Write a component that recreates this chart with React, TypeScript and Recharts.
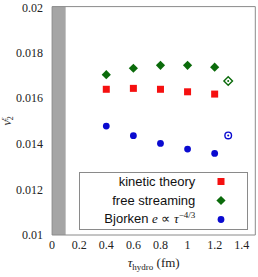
import { ScatterChart, Scatter, XAxis, YAxis, ReferenceArea, Legend, Label } from 'recharts';

// values
const TAU = [0.4, 0.6, 0.8, 1.0, 1.2];
const KINETIC = [0.01638, 0.01642, 0.01638, 0.01627, 0.01617];
const FREE_STREAMING = [0.01702, 0.0173, 0.01743, 0.01743, 0.01735];
const BJORKEN = [0.01477, 0.01435, 0.01401, 0.01376, 0.01357];
const TAU_OPEN = [1.3];
const FREE_STREAMING_OPEN = [0.01674];
const BJORKEN_OPEN = [0.01436];

const X_TICKS = [0, 0.2, 0.4, 0.6, 0.8, 1, 1.2, 1.4];
const X_MINOR = [0.1, 0.3, 0.5, 0.7, 0.9, 1.1, 1.3];
const Y_TICKS = [0.01, 0.012, 0.014, 0.016, 0.018, 0.02];
const LEGEND_ORDER = ['kinetic theory', 'free streaming', 'Bjorken'];

const FRAME = '#8a8a8a';
const RED = '#f51010';
const GREEN = '#0b6b0b';
const BLUE = '#0a0ad0';
const SERIF = '"Liberation Serif", "Times New Roman", serif';
const SANS = '"Liberation Sans", Arial, sans-serif';

const toPoints = (xs: number[], ys: number[]) => xs.map((x, i) => ({ x, y: ys[i] }));

const Square = ({ cx, cy }: any) => <rect x={cx - 3.5} y={cy - 3.5} width={7} height={7} fill={RED} />;
const Diamond = ({ cx, cy }: any) => (
  <polygon points={`${cx},${cy - 4.6} ${cx + 4.6},${cy} ${cx},${cy + 4.6} ${cx - 4.6},${cy}`} fill={GREEN} />
);
const Dot = ({ cx, cy }: any) => <circle cx={cx} cy={cy} r={3.4} fill={BLUE} />;
const OpenDiamond = ({ cx, cy }: any) => (
  <g>
    <polygon
      points={`${cx},${cy - 4.3} ${cx + 4.3},${cy} ${cx},${cy + 4.3} ${cx - 4.3},${cy}`}
      fill="#fff"
      stroke={GREEN}
      strokeWidth={1.4}
    />
    <circle cx={cx} cy={cy} r={1} fill={GREEN} />
  </g>
);
const OpenDot = ({ cx, cy }: any) => (
  <g>
    <circle cx={cx} cy={cy} r={3.3} fill="#fff" stroke={BLUE} strokeWidth={1.4} />
    <circle cx={cx} cy={cy} r={1} fill={BLUE} />
  </g>
);

const fmt = (v: number) => String(Number(v.toFixed(3)));

const YTitle = ({ viewBox }: any) => {
  const x = viewBox.x + 11;
  const y = viewBox.y + viewBox.height / 2;
  return (
    <text x={x} y={y} transform={`rotate(-90, ${x}, ${y})`} textAnchor="middle" fontFamily={SERIF} fill="#222">
      <tspan fontStyle="italic" fontSize={12}>v</tspan>
      <tspan fontSize={8} dy={2.5}>2</tspan>
      <tspan fontSize={8} fontStyle="italic" dx={-4.5} dy={-7}>ε</tspan>
    </text>
  );
};

const XTitle = ({ viewBox }: any) => {
  const x = viewBox.x + viewBox.width / 2;
  return (
    <text x={x} y={267} textAnchor="middle" fontFamily={SERIF} fill="#222">
      <tspan fontStyle="italic" fontSize={13}>τ</tspan>
      <tspan fontSize={9} dy={2.5}>hydro</tspan>
      <tspan fontSize={13} dy={-2.5}> (fm)</tspan>
    </text>
  );
};

const LegendMarker = ({ name }: { name: string }) => {
  if (name === 'kinetic theory') return <Square cx={26} cy={9.5} />;
  if (name === 'free streaming') return <Diamond cx={26} cy={9.5} />;
  return <Dot cx={26} cy={9.5} />;
};

const LegendBox = ({ payload }: any) => {
  const names = (payload || []).map((e: any) => e.value);
  const rows = LEGEND_ORDER.filter((n) => names.includes(n));
  return (
    <div
      style={{
        width: 169,
        height: 58,
        boxSizing: 'border-box',
        border: `1px solid ${FRAME}`,
        background: '#fff',
        fontFamily: SANS,
        fontSize: 13,
        color: '#111',
        paddingTop: 0,
        overflow: 'hidden',
      }}
    >
      {rows.map((name, i) => (
        <div key={name} style={{ display: 'flex', alignItems: 'center', height: 19, marginTop: i === 0 ? -1 : 0 }}>
          <span style={{ width: 116, textAlign: 'right', whiteSpace: 'nowrap', lineHeight: '19px' }}>
            {name === 'Bjorken' ? (
              <>
                Bjorken{' '}
                <span style={{ fontFamily: SERIF, fontStyle: 'italic' }}>e</span>{' '}
                <span style={{ fontFamily: SERIF }}>∝</span>{' '}
                <span style={{ fontFamily: SERIF, fontStyle: 'italic' }}>τ</span>
                <span style={{ fontFamily: SERIF, fontSize: 9, position: 'relative', top: -5 }}>−4/3</span>
              </>
            ) : (
              name
            )}
          </span>
          <svg width={52} height={19}>
            <LegendMarker name={name} />
          </svg>
        </div>
      ))}
    </div>
  );
};

export default function App() {
  const tickStyle = { fontFamily: SERIF, fontSize: 12, fill: '#222' };
  return (
    <div style={{ position: 'absolute', left: 0, top: 0 }}>
      <ScatterChart width={258} height={277} margin={{ top: 6.6, right: 2.7, bottom: 0, left: 0 }}>
        <XAxis
          xAxisId="x"
          type="number"
          dataKey="x"
          domain={[0, 1.5]}
          ticks={X_TICKS}
          height={42}
          tickLine={false}
          tickSize={0}
          tickMargin={5}
          axisLine={{ stroke: FRAME }}
          tick={tickStyle}
          tickFormatter={fmt}
          allowDataOverflow
        >
          <Label content={XTitle} />
        </XAxis>
        <XAxis xAxisId="xb1" type="number" domain={[0, 1.5]} ticks={X_TICKS} mirror tick={false} tickSize={4} axisLine={false} tickLine={{ stroke: FRAME }} height={1} />
        <XAxis xAxisId="xb2" type="number" domain={[0, 1.5]} ticks={X_MINOR} mirror tick={false} tickSize={2} axisLine={false} tickLine={{ stroke: FRAME }} height={1} />
        <XAxis xAxisId="xt1" type="number" orientation="top" domain={[0, 1.5]} ticks={X_TICKS} mirror tick={false} tickSize={4} axisLine={{ stroke: FRAME }} tickLine={{ stroke: FRAME }} height={1} />
        <XAxis xAxisId="xt2" type="number" orientation="top" domain={[0, 1.5]} ticks={X_MINOR} mirror tick={false} tickSize={2} axisLine={false} tickLine={{ stroke: FRAME }} height={1} />
        <YAxis
          yAxisId="y"
          type="number"
          dataKey="y"
          domain={[0.01, 0.02]}
          ticks={Y_TICKS}
          width={52.1}
          tickLine={false}
          tickSize={0}
          tickMargin={9}
          axisLine={{ stroke: FRAME }}
          tick={tickStyle}
          tickFormatter={fmt}
          allowDataOverflow
        >
          <Label content={YTitle} />
        </YAxis>
        <YAxis yAxisId="yr" type="number" orientation="right" domain={[0.01, 0.02]} ticks={Y_TICKS} mirror tick={false} tickSize={4} axisLine={{ stroke: FRAME }} tickLine={{ stroke: FRAME }} width={1} />

        <ReferenceArea xAxisId="x" yAxisId="y" x1={0} x2={0.1} fill="#a5a5a5" fillOpacity={1} stroke="none" />

        <Scatter name="kinetic theory" xAxisId="x" yAxisId="y" data={toPoints(TAU, KINETIC)} fill={RED} shape={Square} isAnimationActive={false} />
        <Scatter name="free streaming" xAxisId="x" yAxisId="y" data={toPoints(TAU, FREE_STREAMING)} fill={GREEN} shape={Diamond} isAnimationActive={false} />
        <Scatter name="Bjorken" xAxisId="x" yAxisId="y" data={toPoints(TAU, BJORKEN)} fill={BLUE} shape={Dot} isAnimationActive={false} />
        <Scatter name="free streaming (open)" xAxisId="x" yAxisId="y" data={toPoints(TAU_OPEN, FREE_STREAMING_OPEN)} fill={GREEN} shape={OpenDiamond} legendType="none" isAnimationActive={false} />
        <Scatter name="Bjorken (open)" xAxisId="x" yAxisId="y" data={toPoints(TAU_OPEN, BJORKEN_OPEN)} fill={BLUE} shape={OpenDot} legendType="none" isAnimationActive={false} />

        <Legend
          layout="horizontal"
          verticalAlign="middle"
          align="center"
          content={LegendBox}
          wrapperStyle={{ left: 79, top: 171.7, width: 169, height: 58 }}
        />
      </ScatterChart>
    </div>
  );
}
